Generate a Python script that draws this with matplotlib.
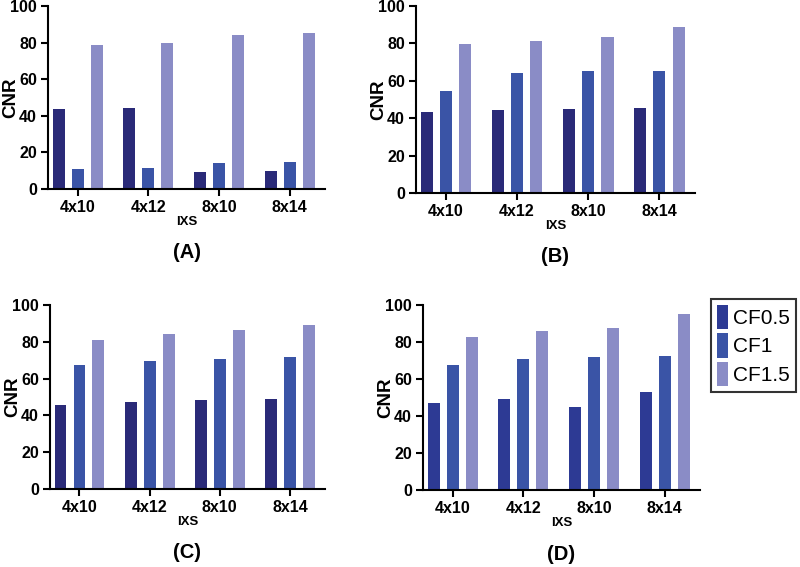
import matplotlib

matplotlib.use("Agg")
import matplotlib.pyplot as plt  # noqa: E402
from matplotlib.patches import Patch  # noqa: E402
import numpy as np  # noqa: E402

FONT = "Liberation Sans"
plt.rcParams["font.family"] = FONT

CATEGORIES = ["4x10", "4x12", "8x10", "8x14"]
SERIES = ["CF0.5", "CF1", "CF1.5"]
COLORS = ["#2a2a78", "#3a54a6", "#8a8cc6"]

# values per panel, one list per series
PANEL_A = [[43.5, 44.5, 9.1, 9.6], [10.9, 11.6, 14.1, 14.7], [78.6, 79.7, 84.2, 85.5]]
PANEL_B = [[43.4, 44.6, 45.0, 45.5], [54.3, 64.1, 65.0, 65.5], [79.5, 81.1, 83.6, 88.8]]
PANEL_C = [[45.5, 47.5, 48.2, 48.7], [67.2, 69.4, 70.7, 71.7], [81.2, 84.4, 86.2, 89.1]]
PANEL_D = [[46.8, 49.0, 44.9, 53.2], [67.7, 71.0, 71.9, 72.6], [82.9, 85.9, 87.4, 95.0]]

W, H = 800, 567

# (data, label, left, right, top, bottom) in pixels
PANELS = [
    (PANEL_A, "(A)", 48, 325, 6, 189),
    (PANEL_B, "(B)", 416, 695, 6, 193),
    (PANEL_C, "(C)", 50, 325, 305, 489),
    (PANEL_D, "(D)", 423, 700, 305, 490),
]


def draw_panel(fig, data, label, left, right, top, bottom, dark):
    ax = fig.add_axes([left / W, 1 - bottom / H, (right - left) / W, (bottom - top) / H])
    x = np.arange(len(CATEGORIES))
    width = 0.17
    offsets = [-0.27, 0.0, 0.27]
    colors = list(COLORS)
    if not dark:
        colors[0] = "#2d3a94"
    for values, off, color in zip(data, offsets, colors):
        ax.bar(x + off, values, width=width, color=color, edgecolor="none")
    ax.set_xlim(-0.42, len(CATEGORIES) - 0.5)
    ax.set_ylim(0, 100)
    ax.set_yticks([0, 20, 40, 60, 80, 100])
    ax.set_yticklabels(["0", "20", "40", "60", "80", "100"],
                       family=FONT, fontweight="bold", fontsize=11.5)
    ax.set_xticks(x)
    ax.set_xticklabels(CATEGORIES, family=FONT, fontweight="bold", fontsize=11.5)
    for side in ("top", "right"):
        ax.spines[side].set_visible(False)
    for side in ("left", "bottom"):
        ax.spines[side].set_linewidth(1.5)
    ax.tick_params(axis="both", width=1.5, length=5, pad=3)

    mid_y = 1 - (top + bottom) / 2 / H
    fig.text((left - 37) / W, mid_y, "CNR", rotation=90, ha="center", va="center",
             family=FONT, fontsize=13.5, fontweight="bold")
    mid_x = (left + right) / 2 / W
    fig.text(mid_x, 1 - (bottom + 33) / H, "IXS", ha="center", va="center",
             family=FONT, fontsize=9.5, fontweight="bold")
    fig.text(mid_x, 1 - (bottom + 64) / H, label, ha="center", va="center",
             family=FONT, fontsize=14.5, fontweight="bold")
    return ax


fig = plt.figure(figsize=(8, 5.67), dpi=100)

for i, (data, label, left, right, top, bottom) in enumerate(PANELS):
    draw_panel(fig, data, label, left, right, top, bottom, dark=(i < 3))

handles = [Patch(facecolor=c, edgecolor="none") for c in ["#2d3a94", COLORS[1], COLORS[2]]]
leg = fig.legend(
    handles, SERIES,
    loc="upper left",
    bbox_to_anchor=(711 / W, 1 - 299 / H),
    prop={"family": FONT, "weight": "normal", "size": 15},
    frameon=True,
    fancybox=False,
    handlelength=0.5,
    handleheight=1.4,
    handletextpad=0.25,
    labelspacing=0.2,
    borderpad=0.3,
    borderaxespad=0,
)
leg.get_frame().set_edgecolor("black")
leg.get_frame().set_linewidth(1.5)

fig.savefig("out.png", dpi=100)
